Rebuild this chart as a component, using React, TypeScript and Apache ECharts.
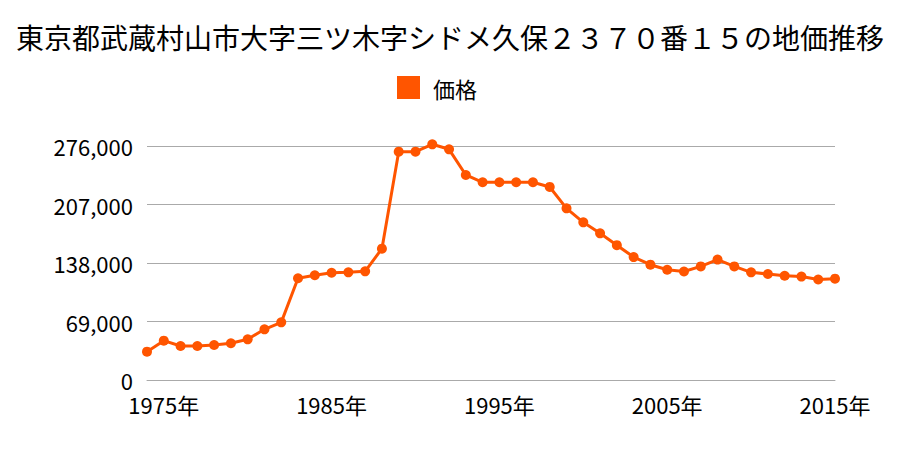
import React, { useEffect, useRef } from "react";
import * as echarts from "echarts";

const years: string[] = [];
for (let y = 1974; y <= 2015; y++) years.push(String(y));

const prices = [
  33400, 46400, 40100, 40100, 41300, 43300, 48000, 59800, 68000, 120000,
  123500, 126500, 127000, 128200, 154900, 269300, 269300, 278000, 272100, 241800,
  233200, 233200, 233200, 233200, 227700, 202500, 186000, 173000, 159000, 145000,
  136000, 130000, 128000, 134000, 142000, 134000, 127000, 125000, 123000, 122000,
  118500, 119500,
];

const yTicks = [0, 69000, 138000, 207000, 276000];
const labelYears = ["1975", "1985", "1995", "2005", "2015"];

const TITLE = "東京都武蔵村山市大字三ツ木字シドメ久保２３７０番１５の地価推移";
const SERIES_NAME = "価格";
const FONT = "'Noto Sans CJK JP', 'Noto Sans', sans-serif";

export default function App() {
  const ref = useRef<HTMLDivElement>(null);
  useEffect(() => {
    if (!ref.current) return;
    const chart = echarts.init(ref.current, null, { renderer: "svg" });
    chart.setOption({
      animation: false,
      backgroundColor: "#ffffff",
      textStyle: { fontFamily: FONT },
      title: {
        text: TITLE,
        left: "center",
        top: 18,
        textStyle: { fontSize: 28, fontWeight: "normal", color: "#000", fontFamily: FONT },
      },
      legend: {
        data: [SERIES_NAME],
        top: 76,
        left: 397,
        padding: 0,
        itemWidth: 23,
        itemHeight: 23,
        itemGap: 10,
        icon: "rect",
        textStyle: { fontSize: 22, color: "#000", fontFamily: FONT, padding: [0, 0, 0, 8] },
      },
      grid: { left: 147, right: 65, top: 146, bottom: 70, containLabel: false },
      xAxis: {
        type: "category",
        data: years,
        boundaryGap: false,
        axisLine: { show: true, lineStyle: { color: "#aaaaaa", width: 1 } },
        axisTick: { show: false },
        axisLabel: {
          interval: (_i: number, v: string) => labelYears.includes(v),
          formatter: (v: string) => v + "年",
          fontSize: 22,
          lineHeight: 22,
          color: "#000",
          margin: 13,
          fontFamily: FONT,
        },
        splitLine: { show: false },
      },
      yAxis: {
        type: "value",
        min: yTicks[0],
        max: yTicks[yTicks.length - 1],
        interval: yTicks[1] - yTicks[0],
        axisLine: { show: false },
        axisTick: { show: false },
        axisLabel: {
          fontSize: 22,
          lineHeight: 18,
          color: "#000",
          margin: 14,
          fontFamily: FONT,
          formatter: (v: number) => v.toLocaleString("en-US"),
        },
        splitLine: { show: true, lineStyle: { color: "#aaaaaa", width: 1 } },
      },
      series: [
        {
          name: SERIES_NAME,
          type: "line",
          data: prices,
          color: "#ff5500",
          clip: false,
          symbol: "circle",
          symbolSize: 10,
          lineStyle: { width: 3, color: "#ff5500" },
          itemStyle: { color: "#ff5500" },
        },
      ],
    });
    return () => chart.dispose();
  }, []);
  return <div ref={ref} style={{ width: 900, height: 450, position: "absolute", left: 0, top: 0 }} />;
}
